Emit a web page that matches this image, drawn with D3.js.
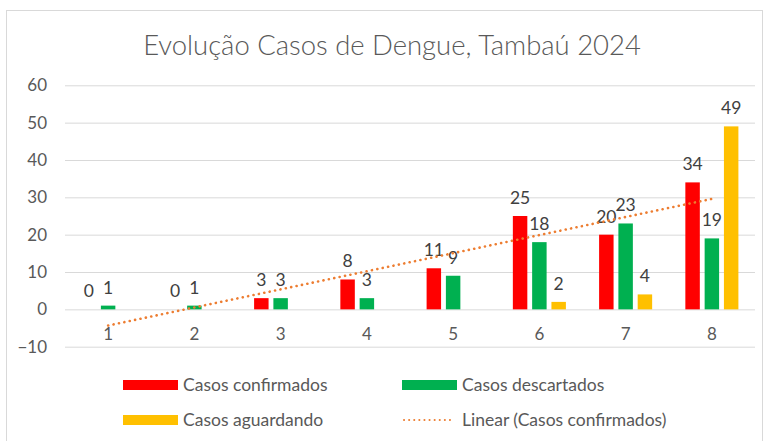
<!DOCTYPE html>
<html><head><meta charset="utf-8">
<script src="https://cdn.jsdelivr.net/npm/d3@7"></script>
<style>body{margin:0;background:#fff;} svg{display:block;font-family:Lato, "Open Sans", sans-serif;}</style>
</head><body>
<script>
const categories = ["1","2","3","4","5","6","7","8"];
const confirmados = [0,0,3,8,11,25,20,34];
const descartados = [1,1,3,3,9,18,23,19];
const aguardando = [null,null,null,null,null,2,4,49];
const yTicks = [-10,0,10,20,30,40,50,60];
const seriesNames = ["Casos confirmados","Casos descartados","Casos aguardando"];
const seriesColors = ["#FF0000","#00B050","#FFC000"];
const trendName = "Linear (Casos confirmados)";
const title = "Evolução Casos de Dengue, Tambaú 2024";

const W=764,H=441;
const svg=d3.select("body").append("svg").attr("width",W).attr("height",H);
svg.append("rect").attr("x",6.5).attr("y",10.5).attr("width",W-8).attr("height",H-10).attr("fill","#fff").attr("stroke","#D9D9D9");

const x0=d3.scaleBand().domain(categories).range([65,755]).paddingInner(0.385).paddingOuter(0.1925);
const x1=d3.scaleBand().domain([0,1,2]).range([0,x0.bandwidth()]).paddingInner(0.25);
const y=d3.scaleLinear().domain([-10,60]).range([346.7,85.3]);

// title
const t=svg.append("text").attr("x",392).attr("y",55).attr("text-anchor","middle").attr("fill","#595959").attr("font-size",24).attr("font-weight",300).text(title);
const tw=t.node().getComputedTextLength();
t.attr("font-size",24*498/tw);

// grid
const yAxis=d3.axisLeft(y).tickValues(yTicks).tickSize(-(755-65)).tickPadding(18).tickFormat(d3.format("d"));
const ga=svg.append("g").attr("transform","translate(65,0)").call(yAxis);
ga.select(".domain").remove();
ga.selectAll(".tick line").attr("stroke","#D9D9D9").attr("stroke-width",1);
ga.selectAll(".tick text").attr("fill","#595959").attr("font-size",17).attr("font-family","Lato, sans-serif");

// bars
const data=[confirmados,descartados,aguardando];
data.forEach((arr,si)=>{
  const g=svg.append("g");
  arr.forEach((v,i)=>{
    if(v===null) return;
    const cx=x0(categories[i])+x1(si);
    g.append("rect").attr("x",cx).attr("width",x1.bandwidth())
      .attr("y",y(Math.max(v,0))).attr("height",Math.abs(y(v)-y(0)))
      .attr("fill",seriesColors[si]);
    g.append("text").attr("x",cx+x1.bandwidth()/2).attr("y",y(v)-12)
      .attr("text-anchor","middle").attr("fill","#404040").attr("font-size",17.5).text(v);
  });
});

// trendline (least squares on confirmados)
const xs=categories.map((c,i)=>i+1);
const n=xs.length, mx=d3.mean(xs), my=d3.mean(confirmados);
const sxy=d3.sum(xs.map((x,i)=>(x-mx)*(confirmados[i]-my)));
const sxx=d3.sum(xs.map(x=>(x-mx)**2));
const slope=sxy/sxx, icpt=my-slope*mx;
const px=i=>x0(categories[i])+x0.bandwidth()/2;
svg.append("line").attr("x1",px(0)).attr("y1",y(icpt+slope*1))
  .attr("x2",px(n-1)).attr("y2",y(icpt+slope*n))
  .attr("stroke","#ED7D31").attr("stroke-width",2.6).attr("stroke-linecap","round")
  .attr("stroke-dasharray","0.1 5.4");

// category labels
categories.forEach((c,i)=>{
  svg.append("text").attr("x",px(i)).attr("y",340).attr("text-anchor","middle")
    .attr("fill","#595959").attr("font-size",17).text(c);
});

// legend
const leg=[{x:123,y:385,type:"bar",c:seriesColors[0],t:seriesNames[0]},
           {x:402,y:385,type:"bar",c:seriesColors[1],t:seriesNames[1]},
           {x:123,y:420,type:"bar",c:seriesColors[2],t:seriesNames[2]},
           {x:402,y:420,type:"line",c:"#ED7D31",t:trendName}];
leg.forEach(l=>{
  if(l.type==="bar") svg.append("rect").attr("x",l.x).attr("y",l.y-5).attr("width",55).attr("height",10).attr("fill",l.c);
  else svg.append("line").attr("x1",l.x+2).attr("x2",l.x+53).attr("y1",l.y).attr("y2",l.y)
    .attr("stroke",l.c).attr("stroke-width",2).attr("stroke-linecap","round").attr("stroke-dasharray","0.1 5");
  svg.append("text").attr("x",l.x+60).attr("y",l.y+6).attr("fill","#595959").attr("font-size",17.5).text(l.t);
});
</script>
</body></html>
